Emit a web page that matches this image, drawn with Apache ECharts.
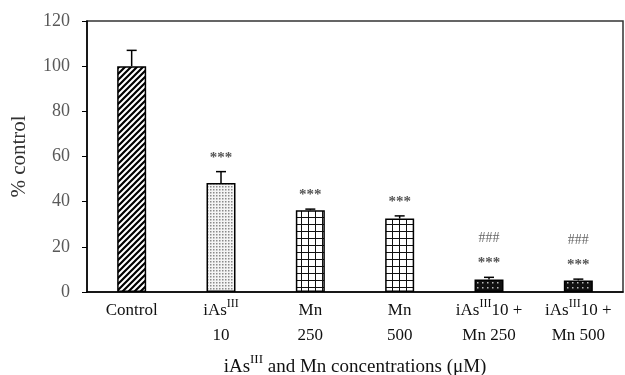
<!DOCTYPE html>
<html>
<head>
<meta charset="utf-8">
<script src="https://cdn.jsdelivr.net/npm/echarts@6/dist/echarts.min.js"></script>
<style>
  html, body { margin: 0; padding: 0; background: #fff; }
  #chart { width: 625px; height: 375px; }
</style>
</head>
<body>
<div id="chart"></div>
<script>
// data
var categories = ['Control', 'iAs{s|III}\n10', 'Mn\n250', 'Mn\n500', 'iAs{s|III}10 +\nMn 250', 'iAs{s|III}10 +\nMn 500'];
var values = [100, 48.3, 36.2, 32.5, 5.5, 5.1];
var errors = [7, 5, 0.5, 1.2, 1.0, 0.6];
var sigVsControl = ['', '***', '***', '***', '***', '***'];
var sigVsAs = ['', '', '', '', '###', '###'];
var yTicks = [0, 20, 40, 60, 80, 100, 120];

// fill patterns (style only)
function makeTile(w, h, draw) {
  var c = document.createElement('canvas');
  c.width = w; c.height = h;
  draw(c.getContext('2d'), w, h);
  return { image: c, repeat: 'repeat' };
}
var hatch = makeTile(6, 6, function (ctx, w, h) {
  ctx.fillStyle = '#fff'; ctx.fillRect(0, 0, w, h);
  ctx.strokeStyle = '#000'; ctx.lineWidth = 2.2;
  ctx.beginPath();
  ctx.moveTo(-1, h + 1); ctx.lineTo(w + 1, -1);
  ctx.moveTo(-1, 1); ctx.lineTo(1, -1);
  ctx.moveTo(w - 1, h + 1); ctx.lineTo(w + 1, h - 1);
  ctx.stroke();
});
var dots = makeTile(3, 3, function (ctx, w, h) {
  ctx.fillStyle = '#f4f4f4'; ctx.fillRect(0, 0, w, h);
  ctx.fillStyle = '#8a8a8a'; ctx.fillRect(0, 0, 1.5, 1.5);
});
var grid = makeTile(7, 7, function (ctx, w, h) {
  ctx.fillStyle = '#fff'; ctx.fillRect(0, 0, w, h);
  ctx.fillStyle = '#111';
  ctx.fillRect(0, 0, 1, h);
  ctx.fillRect(0, 0, w, 1);
});
var dark = makeTile(5, 5, function (ctx, w, h) {
  ctx.fillStyle = '#111'; ctx.fillRect(0, 0, w, h);
  ctx.fillStyle = '#bbb'; ctx.fillRect(2, 2, 1.5, 1.5);
});
var fills = [hatch, dots, grid, grid, dark, dark];

var chart = echarts.init(document.getElementById('chart'));
var serif = 'Liberation Serif, Times New Roman, serif';
var supStyle = { fontSize: 12, fontFamily: serif, color: '#111', verticalAlign: 'top', lineHeight: 16 };

chart.setOption({
  animation: false,
  grid: {
    left: 87, right: 2, top: 21, bottom: 83,
    containLabel: false, outerBoundsMode: 'none',
    show: true, borderColor: '#333', borderWidth: 1.5
  },
  xAxis: {
    type: 'category',
    data: categories,
    axisLine: { lineStyle: { color: '#000', width: 1.5 } },
    axisTick: { show: false },
    axisLabel: {
      interval: 0, margin: 6, color: '#111', fontFamily: serif, fontSize: 17, lineHeight: 25,
      rich: { s: supStyle }
    },
    name: 'iAs{s|III} and Mn concentrations (\u03bcM)',
    nameLocation: 'middle',
    nameGap: 53,
    nameTextStyle: {
      color: '#111', fontFamily: serif, fontSize: 19, lineHeight: 28,
      rich: { s: { fontSize: 13, fontFamily: serif, color: '#111', verticalAlign: 'top', lineHeight: 12 } }
    }
  },
  yAxis: {
    type: 'value',
    min: yTicks[0], max: yTicks[yTicks.length - 1], interval: 20,
    splitLine: { show: false },
    axisLine: { show: true, lineStyle: { color: '#000', width: 1.5 } },
    axisTick: { show: true, length: 5, lineStyle: { color: '#000' } },
    axisLabel: { color: '#595959', fontFamily: serif, fontSize: 18, margin: 17 },
    name: '% control',
    nameLocation: 'middle',
    nameGap: 57,
    nameTextStyle: { color: '#333', fontFamily: serif, fontSize: 21 }
  },
  series: [
    {
      type: 'bar',
      barWidth: 29,
      data: values.map(function (v, i) {
        return { value: v, itemStyle: { color: fills[i], borderColor: '#000', borderWidth: 1.5 } };
      })
    },
    {
      type: 'custom',
      data: values.map(function (v, i) { return [i, v, v + errors[i]]; }),
      renderItem: function (params, api) {
        var i = api.value(0);
        var base = api.coord([i, api.value(1)]);
        var top = api.coord([i, api.value(2)]);
        var x = base[0];
        var children = [
          { type: 'line', shape: { x1: x, y1: base[1], x2: x, y2: top[1] }, style: { stroke: '#000', lineWidth: 1.5 } },
          { type: 'line', shape: { x1: x - 5, y1: top[1], x2: x + 5, y2: top[1] }, style: { stroke: '#000', lineWidth: 1.5 } }
        ];
        if (sigVsControl[i]) {
          children.push({ type: 'text', style: { text: sigVsControl[i], x: x, y: top[1] - 14, align: 'center', verticalAlign: 'middle', fill: '#555', font: 'bold 15px ' + serif } });
        }
        if (sigVsAs[i]) {
          children.push({ type: 'text', style: { text: sigVsAs[i], x: x, y: top[1] - 39, align: 'center', verticalAlign: 'middle', fill: '#666', font: '14px ' + serif } });
        }
        return { type: 'group', children: children };
      },
      z: 5
    }
  ]
});
</script>
</body>
</html>
